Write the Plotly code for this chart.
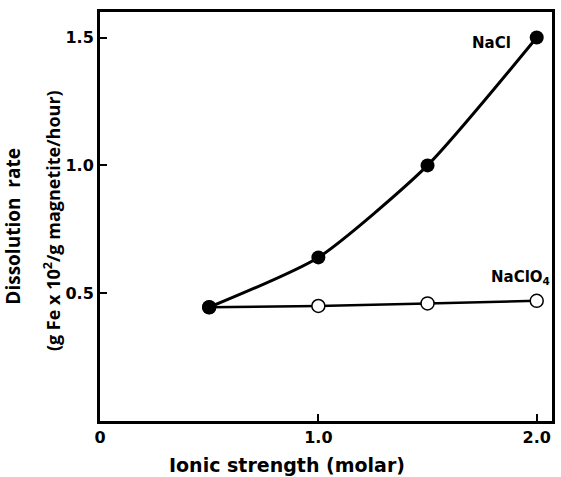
import plotly.graph_objects as go

ionic_strength = [0.5, 1.0, 1.5, 2.0]
nacl_rate = [0.445, 0.64, 1.0, 1.5]
naclo4_rate = [0.445, 0.45, 0.46, 0.47]

x_tick_vals = [0, 1.0, 2.0]
x_tick_text = ["0", "1.0", "2.0"]
y_tick_vals = [0.5, 1.0, 1.5]
y_tick_text = ["0.5", "1.0", "1.5"]

FONT = "DejaVu Sans"
FONT2 = "Open Sans"

fig = go.Figure()
fig.add_trace(go.Scatter(
    x=ionic_strength, y=naclo4_rate, mode="lines+markers",
    line=dict(color="black", width=2.5),
    marker=dict(size=13, color="white", line=dict(color="black", width=1.5)),
    showlegend=False))
fig.add_trace(go.Scatter(
    x=ionic_strength, y=nacl_rate, mode="lines+markers",
    line=dict(color="black", width=3, shape="spline", smoothing=0.6),
    marker=dict(size=14, color="black"),
    showlegend=False))

fig.add_annotation(x=1.89, y=1.48, text="NaCl", showarrow=False,
                   font=dict(family=FONT, size=15, color="black", weight="bold"),
                   xanchor="right")
fig.add_annotation(x=2.07, y=0.56, text="NaClO<sub>4</sub>", showarrow=False,
                   font=dict(family=FONT, size=15, color="black", weight="bold"),
                   xanchor="right")

fig.add_annotation(xref="paper", yref="paper", x=-0.193, y=0.477, xanchor="center", yanchor="middle",
                   text="Dissolution  rate", textangle=-90, showarrow=False,
                   font=dict(family=FONT2, size=19, color="black", weight="bold"))
fig.add_annotation(xref="paper", yref="paper", x=-0.106, y=0.489, xanchor="center", yanchor="middle",
                   text="(g Fe x 10<sup>2</sup>/g magnetite/hour)", textangle=-90, showarrow=False,
                   font=dict(family=FONT2, size=18, color="black", weight="bold"))
fig.add_annotation(xref="paper", yref="paper", x=0.413, y=-0.107, xanchor="center", yanchor="middle",
                   text="Ionic strength (molar)", showarrow=False,
                   font=dict(family=FONT, size=19, color="black", weight="bold"))

fig.update_xaxes(range=[0, 2.07], tickvals=x_tick_vals, ticktext=x_tick_text,
                 ticks="inside", ticklen=7, tickwidth=2, tickcolor="black",
                 showline=True, linecolor="black", linewidth=3, mirror=True,
                 showgrid=False, zeroline=False,
                 tickfont=dict(family=FONT, size=16, color="black", weight="bold"))
fig.update_yaxes(range=[0, 1.6], tickvals=y_tick_vals, ticktext=y_tick_text,
                 ticks="inside", ticklen=7, tickwidth=2, tickcolor="black",
                 showline=True, linecolor="black", linewidth=3, mirror=True,
                 showgrid=False, zeroline=False,
                 tickfont=dict(family=FONT, size=16, color="black", weight="bold"))

fig.update_layout(width=561, height=477, margin=dict(l=100, r=6, t=12, b=56),
                  plot_bgcolor="white", paper_bgcolor="white")

fig.write_html("out.html")
